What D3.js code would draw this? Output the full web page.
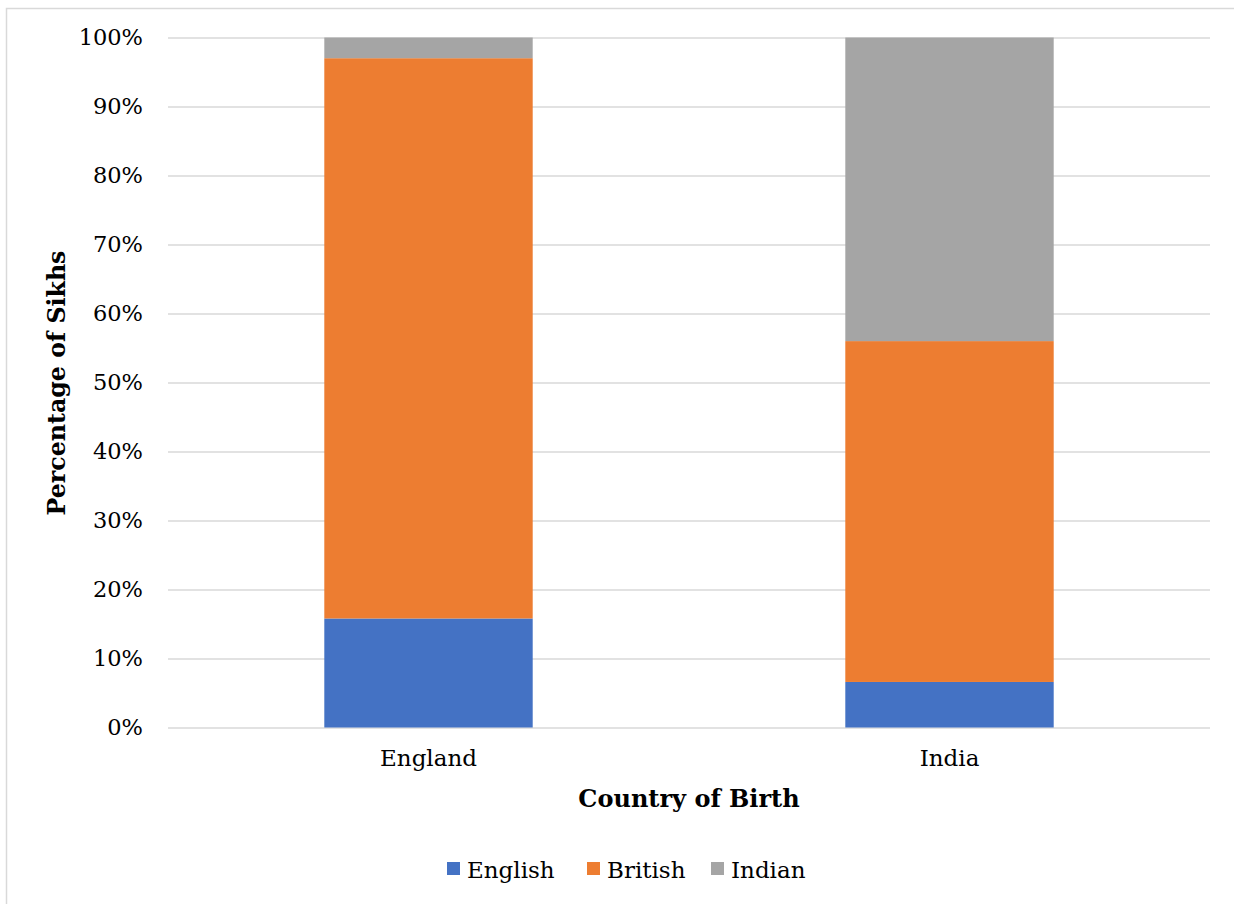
<!DOCTYPE html>
<html>
<head>
<meta charset="utf-8">
<script src="https://cdn.jsdelivr.net/npm/d3@7/dist/d3.min.js"></script>
<style>
  html, body { margin: 0; padding: 0; background: #fff; }
  svg { display: block; }
  text { font-family: Georgia, "DejaVu Serif", serif; fill: #000; }
</style>
</head>
<body>
<svg id="chart" width="1234" height="904"></svg>
<script>
// Country of birth groups
const countries = ["England", "India"];
// Self-described national identity, percent of Sikhs in each group
const identities = ["English", "British", "Indian"];
const englishPct = [15.8, 6.6];
const britishPct = [81.2, 49.4];
const indianPct  = [3.0, 44.0];
const colors = ["#4472c4", "#ed7d31", "#a5a5a5"];
const yTicks = [0, 10, 20, 30, 40, 50, 60, 70, 80, 90, 100];

const rows = countries.map((c, i) => ({
  country: c,
  English: englishPct[i],
  British: britishPct[i],
  Indian: indianPct[i]
}));

const svg = d3.select("#chart");

// outer frame of the chart area
svg.append("path")
  .attr("d", "M6.5,904 V8.5 H1234")
  .attr("fill", "none")
  .attr("stroke", "#d9d9d9")
  .attr("stroke-width", 1.5);

const plot = { left: 168, right: 1210, top: 37.5, bottom: 727.5 };

const x = d3.scaleBand()
  .domain(countries)
  .range([plot.left, plot.right])
  .paddingInner(0.6)
  .paddingOuter(0.3);

const y = d3.scaleLinear()
  .domain([0, 100])
  .range([plot.bottom, plot.top]);

// horizontal gridlines with percentage labels
const yAxis = d3.axisLeft(y)
  .tickValues(yTicks)
  .tickFormat(d => d + "%")
  .tickSize(-(plot.right - plot.left))
  .tickPadding(25);

const gy = svg.append("g")
  .attr("transform", `translate(${plot.left},0)`)
  .call(yAxis);
gy.select(".domain").remove();
gy.selectAll(".tick line").attr("stroke", "#d9d9d9").attr("stroke-width", 1.5);
gy.selectAll(".tick text")
  .attr("font-size", 22.5)
  .attr("font-family", "Georgia, 'DejaVu Serif', serif")
  .attr("fill", "#000");

// stacked bars
const stacked = d3.stack().keys(identities)(rows);

svg.append("g")
  .selectAll("g")
  .data(stacked)
  .join("g")
  .attr("fill", (d, i) => colors[i])
  .selectAll("rect")
  .data(d => d)
  .join("rect")
  .attr("x", d => x(d.data.country))
  .attr("width", x.bandwidth())
  .attr("y", d => y(d[1]))
  .attr("height", d => y(d[0]) - y(d[1]));

// category axis labels
const xAxis = d3.axisBottom(x).tickSize(0).tickPadding(22);
const gx = svg.append("g")
  .attr("transform", `translate(0,${plot.bottom})`)
  .call(xAxis);
gx.select(".domain").remove();
gx.selectAll(".tick text")
  .attr("font-size", 23)
  .attr("font-family", "Georgia, 'DejaVu Serif', serif")
  .attr("fill", "#000");

// axis titles
svg.append("text")
  .attr("x", 689)
  .attr("y", 807)
  .attr("text-anchor", "middle")
  .attr("font-size", 24)
  .attr("font-weight", "bold")
  .text("Country of Birth");

svg.append("text")
  .attr("transform", "translate(65,383) rotate(-90)")
  .attr("text-anchor", "middle")
  .attr("font-size", 23.7)
  .attr("font-weight", "bold")
  .text("Percentage of Sikhs");

// legend
const legendX = [447, 587, 711];
const legend = svg.append("g");
identities.forEach((name, i) => {
  legend.append("rect")
    .attr("x", legendX[i])
    .attr("y", 862)
    .attr("width", 13)
    .attr("height", 13)
    .attr("fill", colors[i]);
  legend.append("text")
    .attr("x", legendX[i] + 20)
    .attr("y", 878)
    .attr("font-size", 23)
    .text(name);
});
</script>
</body>
</html>
